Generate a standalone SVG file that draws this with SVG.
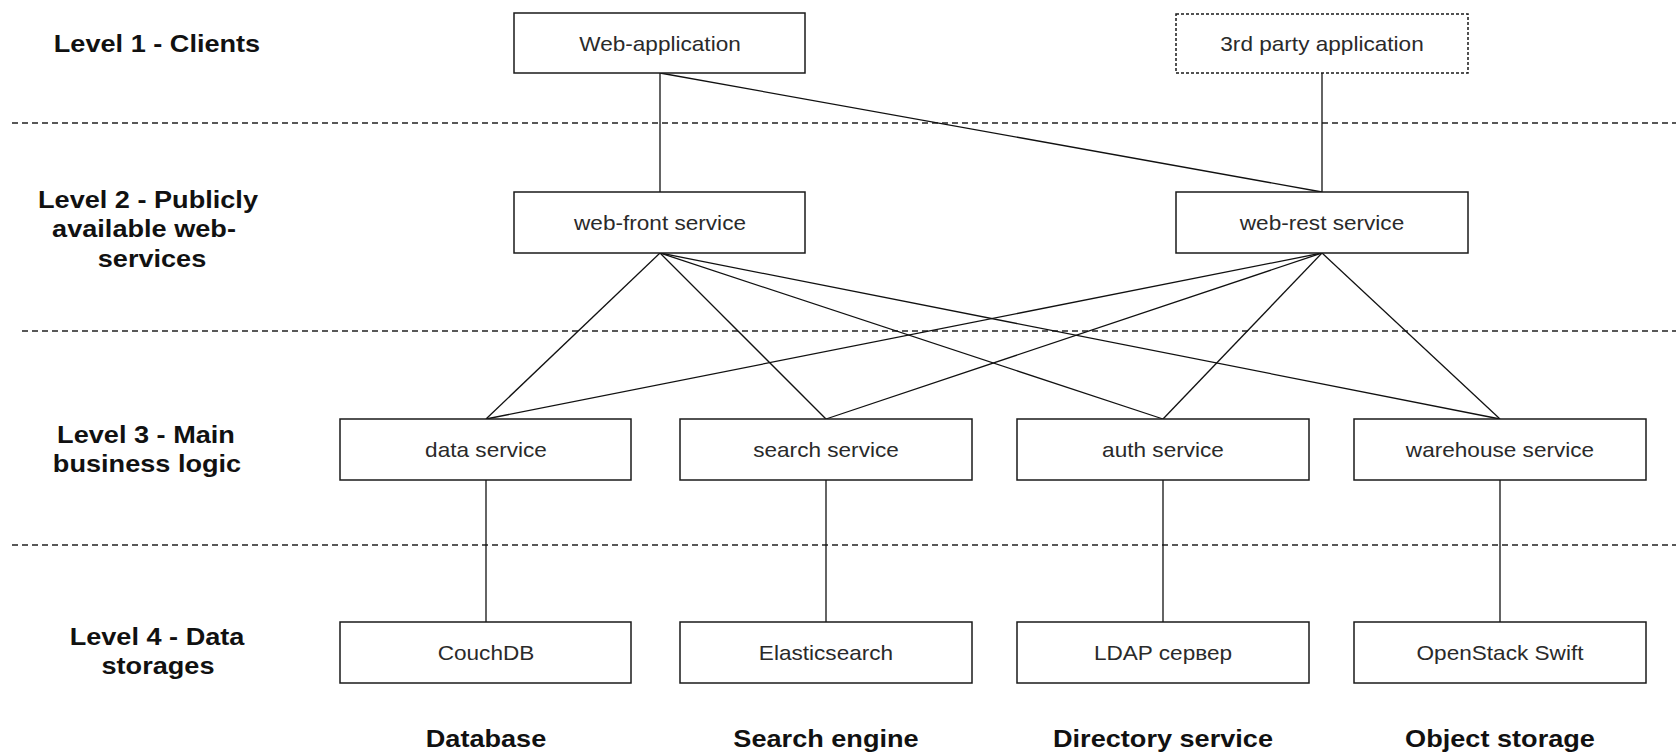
<svg xmlns="http://www.w3.org/2000/svg" width="1676" height="753" viewBox="0 0 1676 753">
  <style>
    .box { fill: #ffffff; stroke: #1a1a1a; stroke-width: 1.5; }
    .box-ext { fill: #ffffff; stroke: #1a1a1a; stroke-width: 1.5; stroke-dasharray: 3 2; }
    .divider { stroke: #222222; stroke-width: 1.3; stroke-dasharray: 6 4; fill: none; }
    .edge { stroke: #111111; stroke-width: 1.3; fill: none; }
    .node-label { font-family: "Liberation Sans", Arial, sans-serif; font-size: 20px; fill: #2a2a2a; text-anchor: middle; }
    .tier-label { font-family: "Liberation Sans", Arial, sans-serif; font-size: 24px; font-weight: bold; fill: #111111; text-anchor: middle; }
  </style>

  <rect width="1676" height="753" fill="#ffffff"/>

  <!-- tier separators -->
  <g id="dividers">
    <line class="divider" x1="12" y1="123" x2="1676" y2="123"/>
    <line class="divider" x1="22" y1="331" x2="1676" y2="331"/>
    <line class="divider" x1="12" y1="545" x2="1676" y2="545"/>
  </g>

  <!-- tier captions on the left -->
  <g id="tier-captions">
    <text class="tier-label" transform="translate(157 52) scale(1.13 1)">Level 1 - Clients</text>
    <text class="tier-label" transform="translate(148 208) scale(1.13 1)">Level 2 - Publicly</text>
    <text class="tier-label" transform="translate(144 237) scale(1.13 1)">available web-</text>
    <text class="tier-label" transform="translate(152 267) scale(1.13 1)">services</text>
    <text class="tier-label" transform="translate(146 443) scale(1.13 1)">Level 3 - Main</text>
    <text class="tier-label" transform="translate(147 472) scale(1.13 1)">business logic</text>
    <text class="tier-label" transform="translate(157 645) scale(1.13 1)">Level 4 - Data</text>
    <text class="tier-label" transform="translate(158 674) scale(1.13 1)">storages</text>
  </g>

  <!-- storage category captions -->
  <g id="storage-captions">
    <text class="tier-label" transform="translate(486 747) scale(1.13 1)">Database</text>
    <text class="tier-label" transform="translate(826 747) scale(1.13 1)">Search engine</text>
    <text class="tier-label" transform="translate(1163 747) scale(1.13 1)">Directory service</text>
    <text class="tier-label" transform="translate(1500 747) scale(1.13 1)">Object storage</text>
  </g>

  <!-- connectors -->
  <g id="connectors">
    <line class="edge" x1="660" y1="73" x2="660" y2="192"/>
    <line class="edge" x1="660" y1="73" x2="1322" y2="192"/>
    <line class="edge" x1="1322" y1="73" x2="1322" y2="192"/>

    <line class="edge" x1="660" y1="253" x2="486" y2="419"/>
    <line class="edge" x1="660" y1="253" x2="826" y2="419"/>
    <line class="edge" x1="660" y1="253" x2="1163" y2="419"/>
    <line class="edge" x1="660" y1="253" x2="1500" y2="419"/>

    <line class="edge" x1="1322" y1="253" x2="486" y2="419"/>
    <line class="edge" x1="1322" y1="253" x2="826" y2="419"/>
    <line class="edge" x1="1322" y1="253" x2="1163" y2="419"/>
    <line class="edge" x1="1322" y1="253" x2="1500" y2="419"/>

    <line class="edge" x1="486" y1="480" x2="486" y2="622"/>
    <line class="edge" x1="826" y1="480" x2="826" y2="622"/>
    <line class="edge" x1="1163" y1="480" x2="1163" y2="622"/>
    <line class="edge" x1="1500" y1="480" x2="1500" y2="622"/>
  </g>

  <!-- level 1: clients -->
  <g id="web-application">
    <rect class="box" x="514" y="13" width="291" height="60"/>
    <text class="node-label" transform="translate(660 51) scale(1.13 1)">Web-application</text>
  </g>
  <g id="third-party-application">
    <rect class="box-ext" x="1176" y="14" width="292" height="59"/>
    <text class="node-label" transform="translate(1322 51) scale(1.13 1)">3rd party application</text>
  </g>

  <!-- level 2: public web services -->
  <g id="web-front-service">
    <rect class="box" x="514" y="192" width="291" height="61"/>
    <text class="node-label" transform="translate(660 230) scale(1.13 1)">web-front service</text>
  </g>
  <g id="web-rest-service">
    <rect class="box" x="1176" y="192" width="292" height="61"/>
    <text class="node-label" transform="translate(1322 230) scale(1.13 1)">web-rest service</text>
  </g>

  <!-- level 3: business logic -->
  <g id="data-service">
    <rect class="box" x="340" y="419" width="291" height="61"/>
    <text class="node-label" transform="translate(486 457) scale(1.13 1)">data service</text>
  </g>
  <g id="search-service">
    <rect class="box" x="680" y="419" width="292" height="61"/>
    <text class="node-label" transform="translate(826 457) scale(1.13 1)">search service</text>
  </g>
  <g id="auth-service">
    <rect class="box" x="1017" y="419" width="292" height="61"/>
    <text class="node-label" transform="translate(1163 457) scale(1.13 1)">auth service</text>
  </g>
  <g id="warehouse-service">
    <rect class="box" x="1354" y="419" width="292" height="61"/>
    <text class="node-label" transform="translate(1500 457) scale(1.13 1)">warehouse service</text>
  </g>

  <!-- level 4: data storages -->
  <g id="couchdb">
    <rect class="box" x="340" y="622" width="291" height="61"/>
    <text class="node-label" transform="translate(486 660) scale(1.13 1)">CouchDB</text>
  </g>
  <g id="elasticsearch">
    <rect class="box" x="680" y="622" width="292" height="61"/>
    <text class="node-label" transform="translate(826 660) scale(1.13 1)">Elasticsearch</text>
  </g>
  <g id="ldap-server">
    <rect class="box" x="1017" y="622" width="292" height="61"/>
    <text class="node-label" transform="translate(1163 660) scale(1.13 1)">LDAP сервер</text>
  </g>
  <g id="openstack-swift">
    <rect class="box" x="1354" y="622" width="292" height="61"/>
    <text class="node-label" transform="translate(1500 660) scale(1.13 1)">OpenStack Swift</text>
  </g>
</svg>
